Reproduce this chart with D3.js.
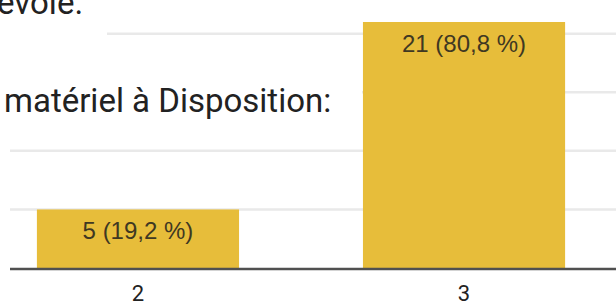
<!DOCTYPE html>
<html>
<head>
<meta charset="utf-8">
<script src="https://cdn.jsdelivr.net/npm/d3@7"></script>
<style>
  html, body { margin: 0; padding: 0; background: #fff; }
  svg { display: block; }
</style>
</head>
<body>
<svg id="chart" width="616" height="304"></svg>
<script>
const categories = ["2", "3"];
const counts = [5, 21];
const percentLabels = ["19,2 %", "80,8 %"];
const gridTicks = [5, 10, 15, 20];
const titleLines = ["évole.", "matériel à Disposition:"];

const W = 616, H = 304;
const svg = d3.select("#chart");

const x = d3.scaleBand()
  .domain(categories)
  .range([-87, 689])
  .padding(0.38);

const y = d3.scaleLinear()
  .domain([0, 21])
  .range([268, 22]);

// gridlines
svg.append("g")
  .selectAll("line")
  .data(gridTicks)
  .join("line")
  .attr("x1", 10).attr("x2", W)
  .attr("y1", d => y(d)).attr("y2", d => y(d))
  .attr("stroke", "#e9e9e9")
  .attr("stroke-width", 2.5);

// white background of overlapping question text
svg.append("rect").attr("x", 0).attr("y", 0).attr("width", 107).attr("height", 42).attr("fill", "#fff");
svg.append("rect").attr("x", 0).attr("y", 60).attr("width", 362).attr("height", 66).attr("fill", "#fff");

// bars
svg.append("g")
  .selectAll("rect")
  .data(categories)
  .join("rect")
  .attr("x", d => x(d))
  .attr("width", x.bandwidth())
  .attr("y", (d, i) => y(counts[i]))
  .attr("height", (d, i) => y(0) - y(counts[i]))
  .attr("fill", "#e7bd3a");

// value labels
svg.append("g")
  .selectAll("text")
  .data(categories)
  .join("text")
  .attr("x", d => x(d) + x.bandwidth() / 2)
  .attr("y", (d, i) => y(counts[i]) + 30)
  .attr("text-anchor", "middle")
  .attr("font-family", "Liberation Sans, Arial, sans-serif")
  .attr("font-size", 24)
  .attr("fill", "#3f3822")
  .text((d, i) => `${counts[i]} (${percentLabels[i]})`);

// baseline axis
const xAxis = d3.axisBottom(x).tickSize(0).tickPadding(17);
const ax = svg.append("g").attr("transform", `translate(0,${y(0)})`).call(xAxis);
ax.select(".domain").remove();
ax.selectAll("text")
  .attr("font-family", "Roboto, sans-serif")
  .attr("font-size", 22)
  .attr("fill", "#222");
svg.append("line")
  .attr("x1", 10).attr("x2", W)
  .attr("y1", y(0) + 1).attr("y2", y(0) + 1)
  .attr("stroke", "#505050")
  .attr("stroke-width", 2.5);

// overlapping question text
svg.append("text")
  .attr("x", -3).attr("y", 14)
  .attr("font-family", "Roboto, sans-serif")
  .attr("font-size", 33)
  .attr("fill", "#222")
  .text(titleLines[0]);
svg.append("text")
  .attr("x", 4).attr("y", 112)
  .attr("font-family", "Roboto, sans-serif")
  .attr("font-size", 33)
  .attr("fill", "#222")
  .text(titleLines[1]);
</script>
</body>
</html>
